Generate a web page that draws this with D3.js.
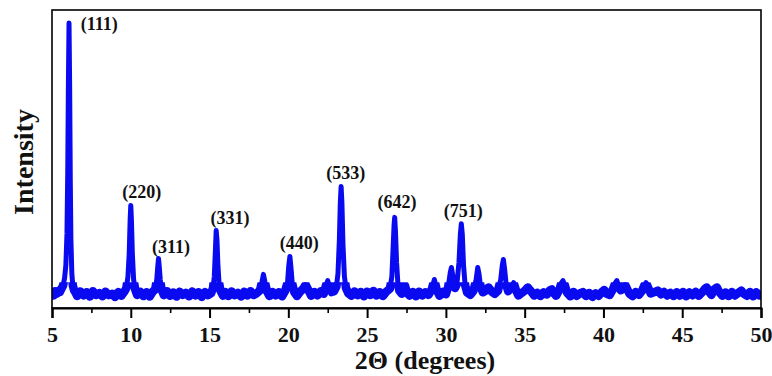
<!DOCTYPE html>
<html>
<head>
<meta charset="utf-8">
<script src="https://cdn.jsdelivr.net/npm/d3@7"></script>
<style>
    body { margin: 0; background: #fff; }
    text { font-family: "Liberation Serif", "Times New Roman", serif; font-weight: bold; }
</style>
</head>
<body>
<svg id="chart" width="772" height="376"></svg>
<script>
// 2theta (degrees), intensity (arb. units, (111) = 100)
var pattern = [
    [5.0, 5.2], [5.1, 4.4], [5.2, 5.9], [5.3, 5.0], [5.4, 6.0], [5.5, 5.6],
    [5.6, 6.8], [5.7, 7.8], [5.8, 10.5], [5.88, 15], [5.95, 26], [6.0, 48],
    [6.04, 78], [6.08, 100], [6.12, 78], [6.16, 45], [6.2, 24], [6.26, 12],
    [6.32, 8], [6.4, 6.2], [6.5, 5.3], [6.6, 4.2], [6.8, 5.8], [7.0, 4.4],
    [7.2, 5.5], [7.4, 4.0], [7.6, 5.9], [7.8, 4.6], [8.0, 5.2], [8.2, 4.1],
    [8.4, 5.7], [8.6, 4.5], [8.8, 5.0], [9.0, 3.9], [9.2, 5.6], [9.4, 4.3],
    [9.6, 5.8], [9.72, 7.0], [9.82, 11], [9.9, 19], [9.96, 31], [10.0, 36],
    [10.04, 31], [10.1, 19], [10.18, 10], [10.28, 6.5], [10.4, 4.6], [10.6, 5.7],
    [10.8, 4.2], [11.0, 5.5], [11.2, 4.0], [11.4, 5.8], [11.55, 6.5], [11.65, 10],
    [11.72, 15], [11.76, 17.4], [11.8, 15], [11.87, 10], [11.95, 6.5], [12.1, 4.5],
    [12.3, 5.9], [12.5, 4.3], [12.7, 5.4], [12.9, 4.0], [13.1, 5.7], [13.3, 4.6],
    [13.5, 5.3], [13.7, 4.1], [13.9, 5.8], [14.1, 4.4], [14.3, 5.5], [14.5, 3.9],
    [14.7, 5.6], [14.9, 4.5], [15.1, 5.2], [15.22, 7.0], [15.3, 11], [15.37, 20],
    [15.42, 27.2], [15.47, 24], [15.53, 15], [15.6, 9], [15.7, 6], [15.85, 4.3],
    [16.0, 5.6], [16.2, 4.2], [16.4, 5.8], [16.6, 4.5], [16.8, 5.3], [17.0, 4.0],
    [17.2, 5.7], [17.4, 4.4], [17.6, 5.9], [17.8, 4.6], [18.0, 5.2], [18.2, 6.2],
    [18.32, 9], [18.42, 11.8], [18.52, 9], [18.65, 5.8], [18.8, 4.2], [19.0, 5.6],
    [19.2, 4.4], [19.4, 5.5], [19.6, 4.1], [19.8, 6.0], [19.95, 9], [20.03, 15],
    [20.1, 18.1], [20.17, 14], [20.25, 8.5], [20.38, 5.5], [20.55, 4.2], [20.75, 5.7],
    [20.95, 6.8], [21.1, 8.2], [21.25, 6.5], [21.45, 4.3], [21.65, 5.6], [21.85, 4.4],
    [22.05, 5.8], [22.25, 5.0], [22.38, 7.8], [22.5, 9.6], [22.62, 7.5], [22.75, 5.6],
    [22.9, 5.9], [23.05, 7.5], [23.15, 12], [23.24, 24], [23.3, 37], [23.35, 42.6],
    [23.4, 37], [23.47, 22], [23.56, 11], [23.66, 7], [23.8, 5.2], [24.0, 4.3],
    [24.2, 5.8], [24.4, 4.5], [24.6, 5.6], [24.8, 4.1], [25.0, 5.7], [25.2, 4.6],
    [25.4, 6.0], [25.6, 4.4], [25.8, 5.5], [26.0, 4.2], [26.2, 5.6], [26.45, 6.8],
    [26.57, 11], [26.65, 21], [26.71, 29], [26.75, 31.8], [26.8, 27], [26.87, 16],
    [26.95, 9], [27.05, 6], [27.2, 5.0], [27.4, 7.9], [27.55, 5.2], [27.7, 4.3],
    [27.9, 5.6], [28.1, 4.1], [28.3, 5.7], [28.5, 4.4], [28.7, 5.5], [28.9, 4.6],
    [29.1, 6.5], [29.27, 10.0], [29.42, 6.3], [29.6, 4.3], [29.8, 5.6], [30.0, 4.8],
    [30.15, 7.5], [30.28, 12.5], [30.35, 14.2], [30.45, 11], [30.58, 7], [30.7, 8.5],
    [30.83, 16], [30.92, 26], [30.98, 29.6], [31.04, 26], [31.12, 15], [31.22, 8],
    [31.35, 5.4], [31.55, 4.6], [31.75, 6.0], [31.92, 10], [32.02, 14.2], [32.1, 12],
    [32.2, 7.5], [32.35, 5.5], [32.5, 6.0], [32.7, 7.2], [32.9, 5.8], [33.1, 5.0],
    [33.3, 6.0], [33.48, 10], [33.58, 15], [33.65, 17.0], [33.72, 14], [33.82, 8.5],
    [33.95, 5.9], [34.1, 6.8], [34.3, 8.9], [34.45, 6.2], [34.6, 4.4], [34.8, 5.2],
    [35.0, 6.0], [35.2, 7.2], [35.4, 5.9], [35.6, 4.4], [35.8, 5.3], [36.0, 4.2],
    [36.2, 5.5], [36.4, 4.7], [36.6, 6.2], [36.72, 6.5], [36.85, 5.2], [37.0, 4.3],
    [37.2, 6.4], [37.33, 8.8], [37.43, 9.6], [37.55, 8], [37.7, 5.3], [37.9, 4.1],
    [38.1, 5.6], [38.3, 4.3], [38.5, 5.1], [38.7, 5.6], [38.9, 4.2], [39.1, 5.3],
    [39.3, 3.9], [39.5, 5.1], [39.7, 4.3], [39.9, 5.6], [40.05, 6.3], [40.2, 5.0],
    [40.4, 4.6], [40.6, 6.5], [40.75, 8.8], [40.85, 9.6], [40.97, 7.6], [41.1, 6.2],
    [41.25, 7.6], [41.37, 8.2], [41.5, 6.7], [41.65, 5.0], [41.85, 4.2], [42.05, 5.6],
    [42.25, 4.6], [42.45, 6.0], [42.6, 8.0], [42.7, 8.9], [42.82, 7.4], [43.0, 5.1],
    [43.2, 5.5], [43.45, 6.1], [43.65, 4.8], [43.85, 5.6], [44.05, 4.4], [44.25, 5.3],
    [44.45, 4.2], [44.65, 5.5], [44.85, 4.3], [45.05, 5.6], [45.25, 4.1], [45.45, 5.4],
    [45.65, 4.5], [45.85, 5.7], [46.05, 4.3], [46.25, 5.4], [46.45, 6.8], [46.55, 7.2],
    [46.7, 5.8], [46.85, 4.6], [47.05, 6.6], [47.2, 7.2], [47.35, 5.6], [47.55, 4.3],
    [47.75, 5.4], [47.95, 4.2], [48.15, 5.6], [48.35, 4.4], [48.55, 5.3], [48.75, 6.1],
    [48.9, 5.0], [49.1, 4.3], [49.3, 5.6], [49.5, 4.1], [49.7, 5.5], [49.9, 4.4],
    [50.0, 5.3]
];

// Miller indices and where they sit (2theta, intensity of label baseline)
var hklLabels = ["(111)", "(220)", "(311)", "(331)", "(440)", "(533)", "(642)", "(751)"];
var hklTheta = [8.0, 10.7, 12.55, 16.3, 20.7, 23.65, 26.9, 31.1];
var hklLevel = [97.5, 38.6, 19.3, 29.5, 20.7, 45.3, 35.1, 31.9];

var xTicks = [5, 10, 15, 20, 25, 30, 35, 40, 45, 50];
var xMinor = [7.5, 12.5, 17.5, 22.5, 27.5, 32.5, 37.5, 42.5, 47.5];

// the noisy background is drawn as a thicker band below this level
var bandTop = 9;

var svg = d3.select("#chart");
var margin = { left: 52, right: 11, top: 10, bottom: 68 };
var width = 772 - margin.left - margin.right;
var height = 376 - margin.top - margin.bottom;

var x = d3.scaleLinear().domain([5, 50]).range([0, width]);
var y = d3.scaleLinear().domain([0, 100]).range([height, 13]);

var g = svg.append("g")
        .attr("transform", "translate(" + margin.left + "," + margin.top + ")");

g.append("clipPath").attr("id", "plotClip")
        .append("rect").attr("width", width).attr("height", height);
g.append("clipPath").attr("id", "bandClip")
        .append("rect").attr("y", y(bandTop)).attr("width", width)
        .attr("height", height - y(bandTop));

var line = d3.line()
        .x(function(d) { return x(d[0]); })
        .y(function(d) { return y(d[1]); });

g.append("path")
        .datum(pattern)
        .attr("clip-path", "url(#plotClip)")
        .attr("fill", "none")
        .attr("stroke", "#0a0af0")
        .attr("stroke-width", 5)
        .attr("stroke-linejoin", "round")
        .attr("d", line);

g.append("path")
        .datum(pattern)
        .attr("clip-path", "url(#bandClip)")
        .attr("fill", "none")
        .attr("stroke", "#0a0af0")
        .attr("stroke-width", 8.5)
        .attr("stroke-linejoin", "round")
        .attr("d", line);

// frame
g.append("rect")
        .attr("width", width).attr("height", height)
        .attr("fill", "none").attr("stroke", "#000").attr("stroke-width", 1.6);

var axis = g.append("g")
        .attr("transform", "translate(0," + height + ")")
        .call(d3.axisBottom(x).tickValues(xTicks).tickSize(10).tickPadding(8)
                .tickFormat(d3.format("d")));
axis.select(".domain").attr("stroke-width", 2.2);
axis.selectAll(".tick line").attr("stroke-width", 2);
axis.selectAll(".tick text")
        .attr("font-size", 22).attr("fill", "#111")
        .attr("font-family", "Liberation Serif").attr("font-weight", "bold");

g.append("g")
        .attr("transform", "translate(0," + height + ")")
        .call(d3.axisBottom(x).tickValues(xMinor).tickSize(5).tickFormat(""))
        .call(function(s) { s.select(".domain").remove(); })
        .selectAll(".tick line").attr("stroke-width", 1.6);

g.selectAll(".hkl")
        .data(hklLabels)
        .enter().append("text")
        .attr("class", "hkl")
        .attr("x", function(d, i) { return x(hklTheta[i]); })
        .attr("y", function(d, i) { return y(hklLevel[i]); })
        .attr("text-anchor", "middle")
        .attr("font-size", 18)
        .attr("fill", "#111")
        .text(function(d) { return d; });

svg.append("text")
        .attr("x", 425).attr("y", 369)
        .attr("text-anchor", "middle")
        .attr("font-size", 26)
        .attr("fill", "#111")
        .text("2\u0398 (degrees)");

svg.append("text")
        .attr("transform", "translate(33,162) rotate(-90)")
        .attr("text-anchor", "middle")
        .attr("font-size", 28)
        .attr("fill", "#111")
        .text("Intensity");
</script>
</body>
</html>
